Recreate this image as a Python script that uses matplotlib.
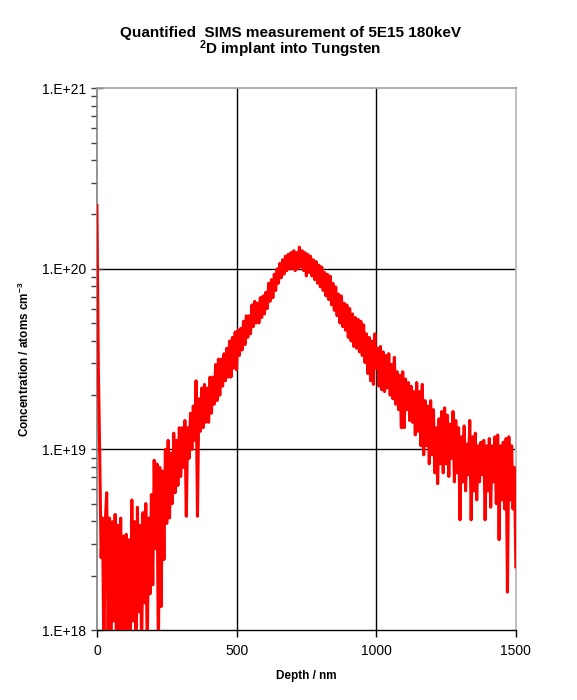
import numpy as np
import matplotlib
matplotlib.use('Agg')
import matplotlib.pyplot as plt
from matplotlib.ticker import FixedLocator, FuncFormatter, LogLocator, NullFormatter

plt.rcParams['font.family'] = ['Liberation Sans', 'DejaVu Sans']
plt.rcParams['mathtext.fontset'] = 'custom'
plt.rcParams['mathtext.rm'] = 'Liberation Sans'
plt.rcParams['mathtext.bf'] = 'Liberation Sans:bold'

############################## Data ############################################
# depth grid of the profile, nm
depth_step = 5
depth = np.arange(0, 1501, depth_step)

# log10 of the concentration (atoms cm-3), every 5 nm
log_conc = [
    20.35, 19.45, 18.97, 18.40, 18.62, 17.85, 18.60, 18.76, 17.95, 18.62,
    17.80, 18.60, 18.05, 18.64, 17.85, 18.58, 17.95, 18.62, 17.80, 18.52,
    18.00, 18.53, 17.80, 18.50, 17.95, 18.72, 18.05, 18.60, 17.85, 18.68,
    18.10, 18.58, 17.85, 18.65, 18.15, 18.70, 17.85, 18.62, 18.20, 18.75,
    18.25, 18.94, 18.45, 18.92, 17.85, 18.90, 18.13, 18.88, 18.39, 19.00,
    18.59, 19.05, 18.62, 18.98, 18.70, 19.09, 18.76, 19.05, 18.80, 19.12,
    18.85, 19.12, 18.90, 19.16, 18.63, 19.12, 18.95, 19.20, 19.00, 19.24,
    19.05, 19.38, 18.63, 19.28, 19.10, 19.34, 19.12, 19.36, 19.15, 19.34,
    19.15, 19.40, 19.20, 19.40, 19.25, 19.47, 19.27, 19.50, 19.30, 19.50,
    19.35, 19.53, 19.38, 19.56, 19.40, 19.60, 19.40, 19.62, 19.45, 19.65,
    19.44, 19.66, 19.52, 19.67, 19.55, 19.71, 19.58, 19.74, 19.62, 19.74,
    19.64, 19.80, 19.68, 19.82, 19.70, 19.81, 19.70, 19.84, 19.73, 19.85,
    19.75, 19.87, 19.78, 19.92, 19.82, 19.94, 19.84, 19.97, 19.88, 20.00,
    19.92, 20.03, 19.95, 20.05, 19.97, 20.07, 19.99, 20.08, 20.00, 20.09,
    20.00, 20.10, 19.99, 20.09, 20.00, 20.12, 20.01, 20.10, 19.99, 20.09,
    19.96, 20.08, 19.98, 20.07, 19.96, 20.05, 19.94, 20.04, 19.92, 20.02,
    19.90, 20.01, 19.88, 19.98, 19.85, 19.97, 19.83, 19.96, 19.80, 19.92,
    19.77, 19.90, 19.74, 19.86, 19.70, 19.85, 19.68, 19.81, 19.66, 19.80,
    19.62, 19.78, 19.60, 19.75, 19.57, 19.73, 19.56, 19.72, 19.54, 19.71,
    19.52, 19.69, 19.48, 19.64, 19.42, 19.62, 19.38, 19.60, 19.36, 19.64,
    19.45, 19.56, 19.35, 19.57, 19.33, 19.54, 19.32, 19.52, 19.34, 19.53,
    19.30, 19.47, 19.28, 19.51, 19.25, 19.43, 19.22, 19.41, 19.12, 19.43,
    19.12, 19.39, 19.22, 19.37, 19.16, 19.35, 19.15, 19.32, 19.08, 19.37,
    19.10, 19.32, 19.02, 19.36, 18.97, 19.27, 19.02, 19.24, 18.92, 19.27,
    18.97, 19.22, 18.87, 19.12, 18.81, 19.17, 18.92, 19.21, 18.87, 19.23,
    18.92, 19.19, 18.85, 19.14, 18.95, 19.21, 18.82, 19.16, 18.87, 19.12,
    18.61, 19.07, 18.82, 19.13, 18.77, 19.03, 18.86, 19.16, 18.61, 19.07,
    18.77, 19.09, 18.72, 19.02, 18.82, 19.04, 18.86, 19.05, 18.61, 19.02,
    18.77, 19.06, 18.68, 19.02, 18.82, 19.07, 18.70, 19.08, 18.50, 19.02,
    18.72, 19.04, 18.67, 19.06, 18.21, 19.07, 18.72, 19.02, 18.67, 18.90,
    18.35,
]
conc = 10 ** np.array(log_conc)

x_ticks = [0, 500, 1000, 1500]
y_ticks = [1e18, 1e19, 1e20, 1e21]
x_grid = [500, 1000]
y_grid = [1e19, 1e20]

############################## Plot ############################################
fig = plt.figure(figsize=(5.77, 7.0), dpi=100)
ax = fig.add_axes([0.168, 0.1, 0.726, 0.774])

for xg in x_grid:
    ax.axvline(xg, color='black', lw=1.0, zorder=1)
for yg in y_grid:
    ax.axhline(yg, color='black', lw=1.0, zorder=1)

ax.plot(depth, conc, color='#ff0000', lw=2.2, zorder=3)

ax.set_yscale('log')
ax.set_xlim(0, 1500)
ax.set_ylim(1e18, 1e21)

ax.xaxis.set_major_locator(FixedLocator(x_ticks))
ax.yaxis.set_major_locator(FixedLocator(y_ticks))
ax.yaxis.set_minor_locator(LogLocator(base=10, subs=np.arange(2, 10)))
ax.yaxis.set_minor_formatter(NullFormatter())
ax.yaxis.set_major_formatter(
    FuncFormatter(lambda v, pos: '1.E+%d' % int(round(np.log10(v)))))

ax.tick_params(axis='x', which='major', direction='out', length=5,
               width=1, color='black', labelsize=10, pad=5)
ax.tick_params(axis='y', which='major', direction='inout', length=8,
               width=1, color='#404040', labelsize=10, pad=4)
ax.tick_params(axis='y', which='minor', direction='out', length=4,
               width=1, color='#404040')

## spines as in the original chart
ax.spines['left'].set_color('#808080')
ax.spines['left'].set_linewidth(1.2)
ax.spines['bottom'].set_color('black')
ax.spines['bottom'].set_linewidth(1.0)
ax.spines['top'].set_color('#a0a0a0')
ax.spines['top'].set_linewidth(1.2)
ax.spines['right'].set_color('#c0c0c0')
ax.spines['right'].set_linewidth(1.5)

ax.set_xlabel('Depth / nm', fontsize=8.5, fontweight='bold', labelpad=9)
ax.set_ylabel(r'Concentration / atoms cm$^{\mathbf{-3}}$', fontsize=8.5,
              fontweight='bold', labelpad=7)

fig.text(0.503, 0.953, 'Quantified  SIMS measurement of 5E15 180keV',
         ha='center', va='center', fontsize=11, fontweight='bold')
fig.text(0.503, 0.929, r'$\mathbf{^2}$D implant into Tungsten',
         ha='center', va='center', fontsize=11, fontweight='bold')

fig.savefig('out.png', dpi=100)
